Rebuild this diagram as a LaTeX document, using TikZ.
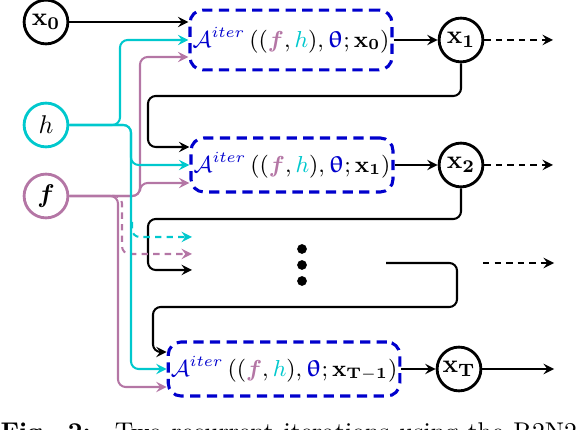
\documentclass[tikz,border=0pt]{standalone}
\usepackage{amsmath,amssymb}
\usepackage{bm}
\usepackage{upgreek}
\usepackage{xcolor}
\usepackage{tikz}
\usetikzlibrary{calc}

\definecolor{hcol}{RGB}{0,200,205}
\definecolor{fcol}{RGB}{180,118,165}
\definecolor{acol}{RGB}{0,0,205}

\newcommand{\Aiter}[1]{$\color{acol}\mathcal{A}^{iter}\color{black}\,((\color{fcol}\boldsymbol{f}\color{black},\color{hcol}h\color{black}),\color{acol}\boldsymbol{\uptheta}\color{black};#1)$}

\begin{document}
\begin{tikzpicture}[x=0.0137cm,y=-0.0137cm,>=stealth,
			var/.style={circle,draw,line width=1.1pt,minimum size=0.6cm,inner sep=0pt},
			iterbox/.style={draw=acol,rounded corners=5pt,line width=1.2pt,dash pattern=on 4pt off 2.5pt,inner sep=1pt,font=\fontsize{9.2pt}{11pt}\selectfont},
			link/.style={line width=0.8pt,rounded corners=3pt},
			hlink/.style={link,draw=hcol},
			flink/.style={link,draw=fcol},
			dashedlink/.style={dash pattern=on 2.5pt off 2pt},
			]
			% 画布大小
			\useasboundingbox (0,0) rectangle (576,430);
			
			% 输入
			\node[var] (x0) at (46,22) {$\mathbf{x_0}$};
			\node[var,draw=hcol] (h) at (46,125) {$h$};
			\node[var,draw=fcol] (f) at (46,196) {$\boldsymbol{f}$};
			
			% 迭代块
			\node[iterbox,minimum width=2.71cm,minimum height=0.82cm] (A1) at (291,40) {\Aiter{\mathbf{x_0}}};
			\node[iterbox,minimum width=2.75cm,minimum height=0.74cm] (A2) at (292,165) {\Aiter{\mathbf{x_1}}};
			\node[iterbox,minimum width=3.14cm,minimum height=0.74cm] (A3) at (284,369) {\Aiter{\mathbf{x_{T-1}}}};
			
			% 输出
			\node[var] (x1) at (461,40) {$\mathbf{x_1}$};
			\node[var] (x2) at (461,165) {$\mathbf{x_2}$};
			\node[var] (xT) at (459,369) {$\mathbf{x_T}$};
			
			% 第一步
			\draw[->,link] (x0) -- (x0 -| A1.west);
			\draw[->,hlink] (h.east) -- (120,125) |- (A1.west);
			\draw[->,flink] (f.east) -- (140,196) |- ($(A1.west)+(0,17)$);
			\draw[->,link] (A1.east) -- (x1.west);
			\draw[->,link,dashedlink] (x1.east) -- (553,40);
			
			% 第二步
			\draw[->,link] (x1.south) |- (148,96) |- ($(A2.west)+(0,-18)$);
			\draw[->,hlink] (h.east) -- (131,125) |- (A2.west);
			\draw[->,flink] (f.east) -- (140,196) |- ($(A2.west)+(0,18)$);
			\draw[->,link] (A2.east) -- (x2.west);
			\draw[->,link,dashedlink] (x2.east) -- (553,165);
			
			% 省略部分
			\coordinate (g1) at (192,237);
			\coordinate (g2) at (192,254);
			\coordinate (g3) at (192,270);
			\draw[->,link] (x2.south) |- (148,219) |- (g3);
			\draw[->,hlink,dashedlink] (132,222) |- (g1);
			\draw[->,flink,dashedlink] (112,196) -- (122,196) |- (g2);
			\foreach \y in {249,265,281}
			\fill (302,\y) circle (1.9pt);
			\coordinate (r0) at (386,263);
			\draw[->,link] (r0) -- (457,263) |- (153,307) |- ($(A3.west)+(0,-17)$);
			\coordinate (r1) at (483,263);
			\coordinate (r2) at (554,263);
			\draw[->,link,dashedlink] (r1) -- (r2);
			
			% 最后一步
			\draw[->,hlink] (h.east) -- (131,125) |- (A3.west);
			\draw[->,flink] (f.east) -- (118,196) |- ($(A3.west)+(0,18)$);
			\draw[->,link] (A3.east) -- (xT.west);
			\draw[->,link] (xT.east) -- (554,369);
			
			% 图注（被裁切）
			\node[anchor=base west,inner sep=0pt] (cap) at (0,441) {\makebox[7.9cm][s]{\textbf{Fig. 2:} \ Two recurrent iterations using the R2N2}};
		\end{tikzpicture}
\end{document}
